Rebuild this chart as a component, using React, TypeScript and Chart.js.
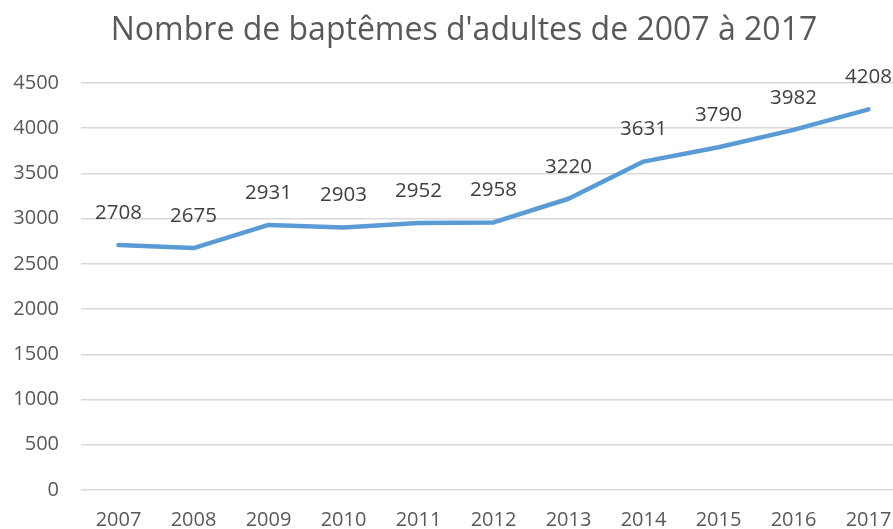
import React, { useEffect, useRef } from "react";
import { Chart, registerables } from "chart.js";

Chart.register(...registerables);

const TITLE = "Nombre de baptêmes d'adultes de 2007 à 2017";
const YEARS = ["2007", "2008", "2009", "2010", "2011", "2012", "2013", "2014", "2015", "2016", "2017"];
const BAPTISMS = [2708, 2675, 2931, 2903, 2952, 2958, 3220, 3631, 3790, 3982, 4208];
const Y_MIN = 0;
const Y_MAX = 4500;
const Y_STEP = 500;

const FONT = "'Open Sans', 'Noto Sans', sans-serif";

const dataLabelPlugin = {
  id: "dataLabels",
  afterDatasetsDraw(chart: any) {
    const ctx = chart.ctx;
    const meta = chart.getDatasetMeta(0);
    const values = chart.data.datasets[0].data as number[];
    ctx.save();
    ctx.font = `20.5px ${FONT}`;
    ctx.fillStyle = "#404040";
    ctx.textAlign = "center";
    ctx.textBaseline = "middle";
    meta.data.forEach((pt: any, i: number) => {
      ctx.fillText(String(values[i]), pt.x, pt.y - 32);
    });
    ctx.restore();
  },
};

const titlePlugin = {
  id: "centredTitle",
  afterDraw(chart: any) {
    const ctx = chart.ctx;
    ctx.save();
    ctx.font = `32px ${FONT}`;
    ctx.fillStyle = "#595959";
    ctx.textAlign = "center";
    ctx.textBaseline = "alphabetic";
    ctx.fillText(TITLE, 464, 40);
    ctx.restore();
  },
};

export default function App() {
  const ref = useRef<HTMLCanvasElement | null>(null);
  useEffect(() => {
    if (!ref.current) return;
    const chart = new Chart(ref.current, {
      type: "line",
      data: {
        labels: YEARS,
        datasets: [
          {
            data: BAPTISMS,
            borderColor: "#5B9BD5",
            backgroundColor: "#5B9BD5",
            borderWidth: 4.5,
            pointRadius: 0,
            tension: 0,
            borderJoinStyle: "round",
            borderCapStyle: "round",
            fill: false,
          },
        ],
      },
      options: {
        animation: false,
        responsive: false,
        maintainAspectRatio: false,
        layout: { padding: { top: 83, right: 22, left: 0, bottom: 0 } },
        plugins: {
          legend: { display: false },
          tooltip: { enabled: false },
          title: { display: false },
        },
        scales: {
          x: {
            offset: true,
            grid: { display: false, drawTicks: false },
            border: { display: false },
            ticks: { color: "#595959", font: { family: FONT, size: 20 }, padding: 18, maxRotation: 0, autoSkip: false },
            afterFit(scale: any) {
              scale.height = 39;
            },
          },
          y: {
            min: Y_MIN,
            max: Y_MAX,
            grid: { color: "#d9d9d9", lineWidth: 1.5, drawTicks: false },
            border: { display: false },
            ticks: {
              stepSize: Y_STEP,
              color: "#595959",
              font: { family: FONT, size: 20 },
              padding: 22,
              callback: (v: any) => String(v),
            },
            afterFit(scale: any) {
              scale.width = 81;
            },
          },
        },
      },
      plugins: [dataLabelPlugin, titlePlugin],
    });
    return () => chart.destroy();
  }, []);
  return (
    <div style={{ position: "fixed", left: 0, top: 0, width: 893, height: 529, overflow: "hidden", background: "#fff" }}>
      <canvas ref={ref} width={928} height={529} style={{ display: "block", width: 928, height: 529 }} />
    </div>
  );
}
